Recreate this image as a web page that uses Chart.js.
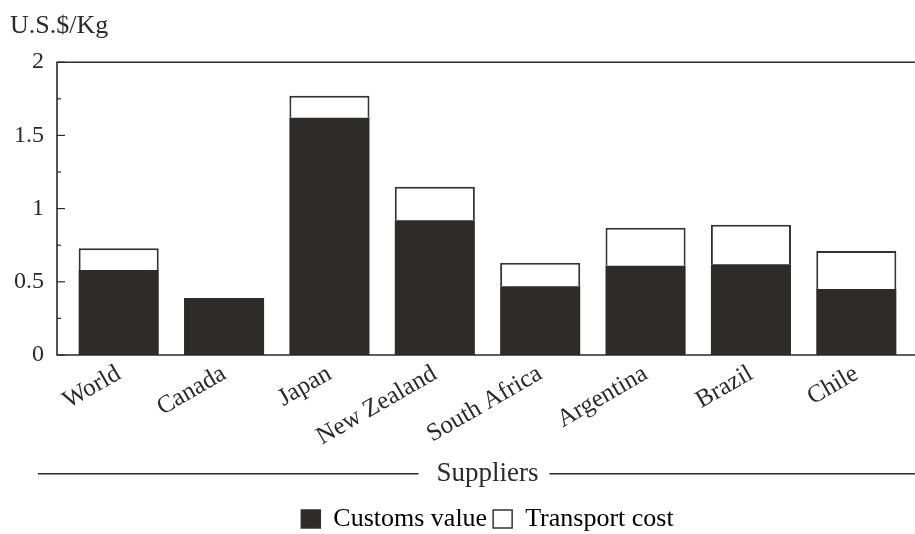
<!DOCTYPE html>
<html>
<head>
<meta charset="utf-8">
<script src="https://cdn.jsdelivr.net/npm/chart.js@4.4.1/dist/chart.umd.min.js"></script>
<style>
  html, body { margin: 0; padding: 0; background: #ffffff; }
  #wrap { width: 915px; height: 534px; }
</style>
</head>
<body>
<div id="wrap"><canvas id="c" width="915" height="534"></canvas></div>
<script>
// ---- Data ----
const categories = ["World", "Canada", "Japan", "New Zealand", "South Africa", "Argentina", "Brazil", "Chile"];
const customsValue = [0.58, 0.39, 1.62, 0.92, 0.47, 0.61, 0.62, 0.45];
const transportCost = [0.15, 0.00, 0.15, 0.23, 0.16, 0.26, 0.27, 0.26];
const yTicks = [0, 0.5, 1, 1.5, 2];
const yTitle = "U.S.$/Kg";
const xTitle = "Suppliers";
const seriesNames = ["Customs value", "Transport cost"];

const INK = "#2a2a2a";
const FONT = '"Liberation Serif", "Times New Roman", serif';
Chart.defaults.font.family = FONT;
Chart.defaults.color = INK;

const AXIS_GAP = 9; // distance between drawn left axis line and first category slot

const framePlugin = {
  id: "frame",
  afterDraw(chart) {
    const ctx = chart.ctx;
    const a = chart.chartArea;
    const y = chart.scales.y;
    const x0 = a.left - AXIS_GAP;
    const W = chart.width;
    ctx.save();
    ctx.strokeStyle = INK;
    ctx.lineWidth = 1.6;
    ctx.beginPath();
    ctx.moveTo(W, a.top); ctx.lineTo(x0, a.top); ctx.lineTo(x0, a.bottom); ctx.lineTo(W, a.bottom);
    ctx.stroke();
    // ticks (major + minor), pointing inward
    ctx.lineWidth = 1.2;
    for (let v = y.min; v <= y.max + 1e-9; v += 0.25) {
      const py = y.getPixelForValue(v);
      const major = Math.abs(v / 0.5 - Math.round(v / 0.5)) < 1e-6;
      ctx.beginPath();
      ctx.moveTo(x0, py);
      ctx.lineTo(x0 + (major ? 8 : 4), py);
      ctx.stroke();
    }
    // lines on both sides of the x-axis title
    const xs = chart.scales.x;
    const tf = xs.options.title.font;
    ctx.font = `${tf.size}px ${FONT}`;
    const tw = ctx.measureText(xTitle).width;
    const cx = (a.left + a.right) / 2;
    const lh = tf.size * 1.2;
    const ty = xs.bottom - xs.options.title.padding.bottom - lh / 2;
    ctx.lineWidth = 1.4;
    ctx.beginPath();
    ctx.moveTo(a.left - 28, ty); ctx.lineTo(cx - tw / 2 - 18, ty);
    ctx.moveTo(cx + tw / 2 + 11, ty); ctx.lineTo(W, ty);
    ctx.stroke();
    ctx.restore();
  }
};

new Chart(document.getElementById("c"), {
  type: "bar",
  data: {
    labels: categories,
    datasets: [
      {
        label: seriesNames[0],
        data: customsValue,
        backgroundColor: "#2e2b2b",
        borderColor: "#2e2b2b",
        borderWidth: 0,
        categoryPercentage: 1,
        barPercentage: 0.76
      },
      {
        label: seriesNames[1],
        data: transportCost,
        backgroundColor: "#ffffff",
        borderColor: "#333333",
        borderWidth: { top: 2, left: 2, right: 2, bottom: 0 },
        categoryPercentage: 1,
        barPercentage: 0.76
      }
    ]
  },
  options: {
    responsive: false,
    animation: false,
    devicePixelRatio: 1,
    layout: { padding: { left: 10, right: 6, top: 0, bottom: -8 } },
    plugins: {
      tooltip: { enabled: false },
      title: {
        display: true,
        text: yTitle,
        align: "start",
        font: { size: 26, weight: "normal" },
        color: INK,
        padding: { top: 11, bottom: 20 }
      },
      legend: {
        position: "bottom",
        fullSize: false,
        labels: {
          font: { size: 26 },
          color: INK,
          boxWidth: 19,
          boxHeight: 18,
          padding: 6,
          generateLabels(chart) {
            return chart.data.datasets.map((ds, i) => ({
              text: ds.label,
              fillStyle: ds.backgroundColor,
              strokeStyle: "#333333",
              lineWidth: 1.5,
              datasetIndex: i,
              hidden: false
            }));
          }
        }
      }
    },
    scales: {
      x: {
        stacked: true,
        grid: { display: false, drawTicks: false },
        border: { display: false },
        ticks: {
          font: { size: 25 },
          color: INK,
          minRotation: 30,
          maxRotation: 30,
          autoSkip: false,
          padding: 4
        },
        title: {
          display: true,
          text: xTitle,
          font: { size: 27 },
          color: INK,
          padding: { top: 0, bottom: 10 }
        },
        afterFit(scale) { scale.height = 145; }
      },
      y: {
        stacked: true,
        min: 0,
        max: 2,
        grid: { display: false, drawTicks: false },
        border: { display: false },
        afterBuildTicks(scale) { scale.ticks = yTicks.map(v => ({ value: v })); },
        ticks: {
          font: { size: 24 },
          color: INK,
          padding: 22,
          callback: (v) => String(v)
        },
        afterFit(scale) { scale.width = 56; }
      }
    }
  },
  plugins: [framePlugin]
});
</script>
</body>
</html>
